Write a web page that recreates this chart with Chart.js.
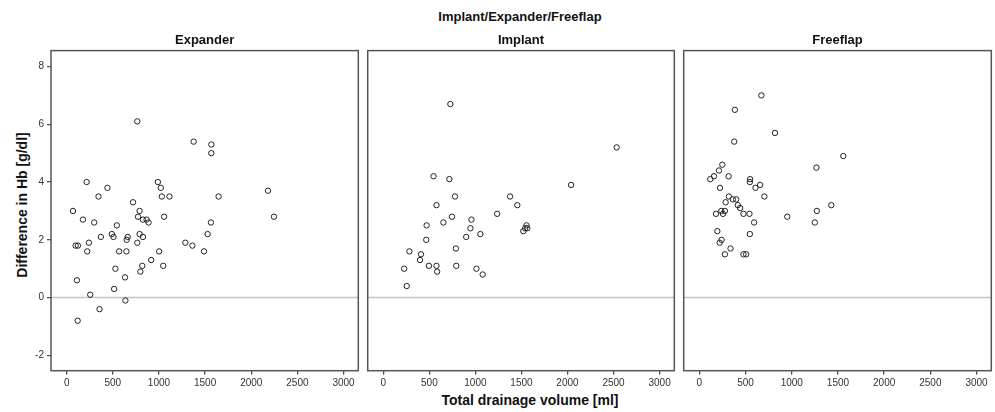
<!DOCTYPE html>
<html>
<head>
<meta charset="utf-8">
<script src="https://cdn.jsdelivr.net/npm/chart.js@4/dist/chart.umd.min.js"></script>
<style>
  body { margin: 0; background: #fff; }
  #wrap { position: relative; width: 995px; height: 412px; overflow: hidden; font-family: "Liberation Sans", Arial, sans-serif; color: #111; }
  canvas { position: absolute; top: 0; }
  .lbl { position: absolute; font-weight: bold; text-align: center; white-space: nowrap; line-height: 16px; }
</style>
</head>
<body>
<div id="wrap">
  <div class="lbl" style="left:420px;top:9px;width:200px;font-size:13px;">Implant/Expander/Freeflap</div>
  <div class="lbl" style="left:-78px;top:197px;width:200px;font-size:14px;transform:rotate(-90deg);">Difference in Hb [g/dl]</div>
  <div class="lbl" style="left:430px;top:392px;width:200px;font-size:14px;">Total drainage volume [ml]</div>
  <canvas id="expanderChart" width="362" height="412" style="left:0px"></canvas>
  <canvas id="implantChart" width="314" height="412" style="left:364px"></canvas>
  <canvas id="freeflapChart" width="315" height="412" style="left:680px"></canvas>
</div>
<script>
// axis ticks
var xTicks = [0, 500, 1000, 1500, 2000, 2500, 3000];
var yTicks = [-2, 0, 2, 4, 6, 8];

// Expander: drainage volume [ml] and Hb difference [g/dl]
var expanderVolume = [765, 1376, 1567, 1567, 216, 988, 442, 1020, 345, 1031, 1114, 1646, 2181, 68, 719,
  790, 176, 298, 773, 826, 866, 887, 1056, 2246, 543, 1563, 1527, 489, 507, 370, 661, 650, 790, 826, 241,
  765, 1286, 97, 122, 1362, 223, 568, 647, 1002, 1488, 916, 819, 1046, 528, 798, 632, 111, 514, 255, 636, 356, 119];
var expanderHb = [6.1, 5.4, 5.3, 5.0, 4.0, 4.0, 3.8, 3.8, 3.5, 3.5, 3.5, 3.5, 3.7, 3.0, 3.3,
  3.0, 2.7, 2.6, 2.8, 2.7, 2.7, 2.6, 2.8, 2.8, 2.5, 2.6, 2.2, 2.2, 2.1, 2.1, 2.1, 2.0, 2.2, 2.1, 1.9,
  1.9, 1.9, 1.8, 1.8, 1.8, 1.6, 1.6, 1.6, 1.6, 1.6, 1.3, 1.1, 1.1, 1.0, 0.9, 0.7, 0.6, 0.3, 0.1, -0.1, -0.4, -0.8];

// Implant
var implantVolume = [728, 2534, 545, 717, 2039, 778, 1376, 577, 1455, 1236, 745, 652, 470, 957, 946, 1054, 900,
  1520, 1540, 1555, 1563, 466, 788, 283, 409, 398, 495, 577, 792, 584, 226, 1011, 1079, 254];
var implantHb = [6.7, 5.2, 4.2, 4.1, 3.9, 3.5, 3.5, 3.2, 3.2, 2.9, 2.8, 2.6, 2.5, 2.7, 2.4, 2.2, 2.1,
  2.3, 2.4, 2.5, 2.4, 2.0, 1.7, 1.6, 1.5, 1.3, 1.1, 1.1, 1.1, 0.9, 1.0, 1.0, 0.8, 0.4];

// Freeflap
var freeflapVolume = [671, 384, 818, 377, 1558, 248, 1267, 212, 158, 118, 316, 549, 546, 657, 607, 223, 703, 319,
  362, 398, 284, 416, 441, 1428, 1271, 237, 276, 179, 255, 477, 542, 951, 592, 1249, 194, 546, 240, 219, 337, 276, 477, 506];
var freeflapHb = [7.0, 6.5, 5.7, 5.4, 4.9, 4.6, 4.5, 4.4, 4.2, 4.1, 4.2, 4.1, 4.0, 3.9, 3.8, 3.8, 3.5, 3.5,
  3.4, 3.4, 3.3, 3.2, 3.1, 3.2, 3.0, 3.0, 3.0, 2.9, 2.9, 2.9, 2.9, 2.8, 2.6, 2.6, 2.3, 2.2, 2.0, 1.9, 1.7, 1.5, 1.5, 1.5];

var fontFamily = '"Liberation Sans", Arial, sans-serif';

// draws the panel frame and the reference line at 0
var framePlugin = {
  id: 'frame',
  beforeDatasetsDraw: function(chart) {
    var ctx = chart.ctx;
    var a = chart.chartArea;
    var y0 = chart.scales.y.getPixelForValue(0);
    ctx.save();
    ctx.strokeStyle = '#c4c4c4';
    ctx.lineWidth = 1.5;
    ctx.beginPath();
    ctx.moveTo(a.left, y0);
    ctx.lineTo(a.right, y0);
    ctx.stroke();
    ctx.strokeStyle = '#555';
    ctx.lineWidth = 1.5;
    ctx.strokeRect(a.left, a.top, a.right - a.left, a.bottom - a.top);
    ctx.restore();
  }
};

function makePanel(canvasId, title, volume, hb, showY) {
  var points = volume.map(function(v, i) { return { x: v, y: hb[i] }; });
  var tickGrid = { display: true, drawOnChartArea: false, drawTicks: true, tickLength: 4, color: '#555', lineWidth: 1.3 };

  new Chart(document.getElementById(canvasId), {
    type: 'scatter',
    data: {
      datasets: [{
        data: points,
        pointRadius: 2.7,
        pointHoverRadius: 2.7,
        borderWidth: 1,
        borderColor: '#222',
        backgroundColor: 'rgba(0,0,0,0)'
      }]
    },
    options: {
      responsive: false,
      animation: false,
      layout: { padding: { left: showY ? 0 : 2.5, right: 2, top: 0, bottom: 0 } },
      plugins: {
        legend: { display: false },
        tooltip: { enabled: false },
        title: {
          display: true,
          text: title,
          fullSize: false,
          color: '#111',
          font: { family: fontFamily, size: 13, weight: 'bold' },
          padding: { top: 33, bottom: 2 }
        }
      },
      scales: {
        x: {
          type: 'linear',
          min: -170,
          max: 3160,
          grid: tickGrid,
          border: { display: false },
          afterBuildTicks: function(s) { s.ticks = xTicks.map(function(v) { return { value: v }; }); },
          afterFit: function(s) { s.height = 41.3; },
          ticks: {
            color: '#333', padding: 3, maxRotation: 0, font: { family: fontFamily, size: 10 },
            callback: function(v) { return String(v); }
          }
        },
        y: {
          type: 'linear',
          display: showY,
          min: -2.53,
          max: 8.55,
          grid: tickGrid,
          border: { display: false },
          afterBuildTicks: function(s) { s.ticks = yTicks.map(function(v) { return { value: v }; }); },
          afterFit: function(s) { s.width = showY ? 51 : 0; },
          ticks: {
            color: '#333', padding: 3, font: { family: fontFamily, size: 10 },
            callback: function(v) { return String(v); }
          }
        }
      }
    },
    plugins: [framePlugin]
  });
}

makePanel('expanderChart', 'Expander', expanderVolume, expanderHb, true);
makePanel('implantChart', 'Implant', implantVolume, implantHb, false);
makePanel('freeflapChart', 'Freeflap', freeflapVolume, freeflapHb, false);
</script>
</body>
</html>
